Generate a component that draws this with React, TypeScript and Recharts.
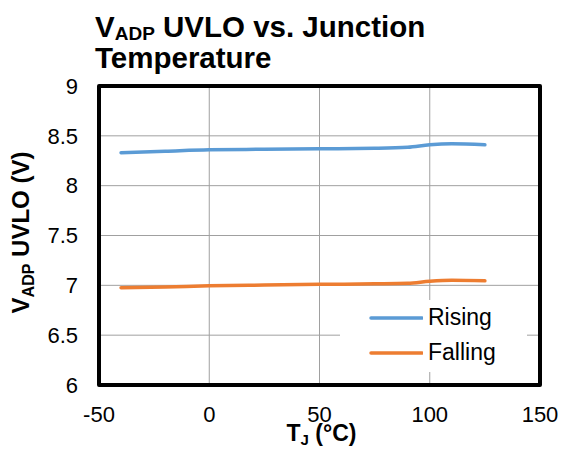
import React from 'react';
import {
  LineChart,
  Line,
  XAxis,
  YAxis,
  CartesianGrid,
  ReferenceArea,
  Legend,
} from 'recharts';

// Junction temperature (°C) and the measured UVLO thresholds (V)
const temps = [-40, -20, 0, 25, 50, 75, 90, 100, 110, 125];
const rising = [8.33, 8.345, 8.36, 8.365, 8.37, 8.375, 8.385, 8.41, 8.42, 8.41];
const falling = [6.975, 6.983, 6.995, 7.003, 7.01, 7.015, 7.02, 7.04, 7.05, 7.045];

const xTicks = [-50, 0, 50, 100, 150];
const yTicks = [6, 6.5, 7, 7.5, 8, 8.5, 9];

const seriesNames = ['Rising', 'Falling'];
const seriesColors = ['#5B9BD5', '#ED7D31'];

const data = temps.map((t, i) => ({ t, rising: rising[i], falling: falling[i] }));

const FONT = '"Liberation Sans", Arial, Helvetica, sans-serif';

const LegendBox = () => (
  <div
    style={{
      width: 187,
      height: 72,
      background: '#fff',
      fontFamily: FONT,
      fontSize: 23,
      color: '#000',
    }}
  >
    {seriesNames.map((name, i) => (
      <div key={name} style={{ display: 'flex', alignItems: 'center', height: 35 }}>
        <svg width={83} height={10} style={{ display: 'block' }}>
          <line x1={31} y1={5} x2={82} y2={5} stroke={seriesColors[i]} strokeWidth={3.5} strokeLinecap="round" />
        </svg>
        <span style={{ marginLeft: 5, lineHeight: '35px' }}>{name}</span>
      </div>
    ))}
  </div>
);

const XLabel = (props: any) => {
  const vb = props.viewBox || {};
  const cx = vb.x + vb.width / 2 + 2;
  return (
    <text x={cx} y={vb.y + 56} textAnchor="middle" fontFamily={FONT} fontWeight="bold" fontSize={23} fill="#000">
      T
      <tspan fontSize={15} dy={4}>J</tspan>
      <tspan dy={-4}> (°C)</tspan>
    </text>
  );
};

const YLabel = (props: any) => {
  const vb = props.viewBox || {};
  const cy = vb.y + vb.height / 2 - 3;
  const cx = 29;
  return (
    <text
      x={cx}
      y={cy}
      transform={`rotate(-90, ${cx}, ${cy})`}
      textAnchor="middle"
      fontFamily={FONT}
      fontWeight="bold"
      fontSize={24}
      fill="#000"
    >
      V
      <tspan fontSize={16} dy={5}>ADP</tspan>
      <tspan dy={-5}> UVLO (V)</tspan>
    </text>
  );
};

export default function App() {
  return (
    <div style={{ position: 'absolute', left: 0, top: 0, width: 562, height: 449, background: '#fff' }}>
      <LineChart
        width={562}
        height={449}
        data={data}
        margin={{ top: 86, right: 22, bottom: 0, left: 0 }}
      >
        <CartesianGrid stroke="#a0a0a0" strokeWidth={1} />
        <XAxis
          type="number"
          dataKey="t"
          domain={[-50, 150]}
          ticks={xTicks}
          height={64}
          tickLine={false}
          axisLine={false}
          tickSize={0}
          tickMargin={21}
          tick={{ fill: '#000', fontSize: 22, fontFamily: FONT }}
          interval={0}
          label={{ content: XLabel }}
        />
        <YAxis
          type="number"
          domain={[6, 9]}
          ticks={yTicks}
          width={99}
          tickLine={false}
          axisLine={false}
          tickSize={0}
          tickMargin={21}
          tick={{ fill: '#000', fontSize: 22, fontFamily: FONT }}
          interval={0}
          label={{ content: YLabel }}
        />
        <ReferenceArea
          x1={-50}
          x2={150}
          y1={6}
          y2={9}
          fill="none"
          stroke="#000"
          strokeWidth={4}
          strokeLinejoin="round"
          ifOverflow="visible"
        />
        <Legend
          layout="vertical"
          align="center"
          verticalAlign="middle"
          wrapperStyle={{ left: 340, top: 300, width: 187, height: 72 }}
          content={<LegendBox />}
        />
        <Line
          type="monotone"
          dataKey="rising"
          name={seriesNames[0]}
          stroke={seriesColors[0]}
          strokeWidth={3.5}
          strokeLinecap="round"
          dot={false}
          activeDot={false}
          isAnimationActive={false}
        />
        <Line
          type="monotone"
          dataKey="falling"
          name={seriesNames[1]}
          stroke={seriesColors[1]}
          strokeWidth={3.5}
          strokeLinecap="round"
          dot={false}
          activeDot={false}
          isAnimationActive={false}
        />
      </LineChart>
      <svg
        width={562}
        height={80}
        style={{ position: 'absolute', left: 0, top: 0, pointerEvents: 'none' }}
      >
        <text x={95} y={37} fontFamily={FONT} fontWeight="bold" fontSize={29.5} fill="#000">
          V
          <tspan fontSize={19} dy={3}>ADP</tspan>
          <tspan dy={-3}> UVLO vs. Junction</tspan>
        </text>
        <text x={95} y={68} fontFamily={FONT} fontWeight="bold" fontSize={29.5} fill="#000">
          Temperature
        </text>
      </svg>
    </div>
  );
}
